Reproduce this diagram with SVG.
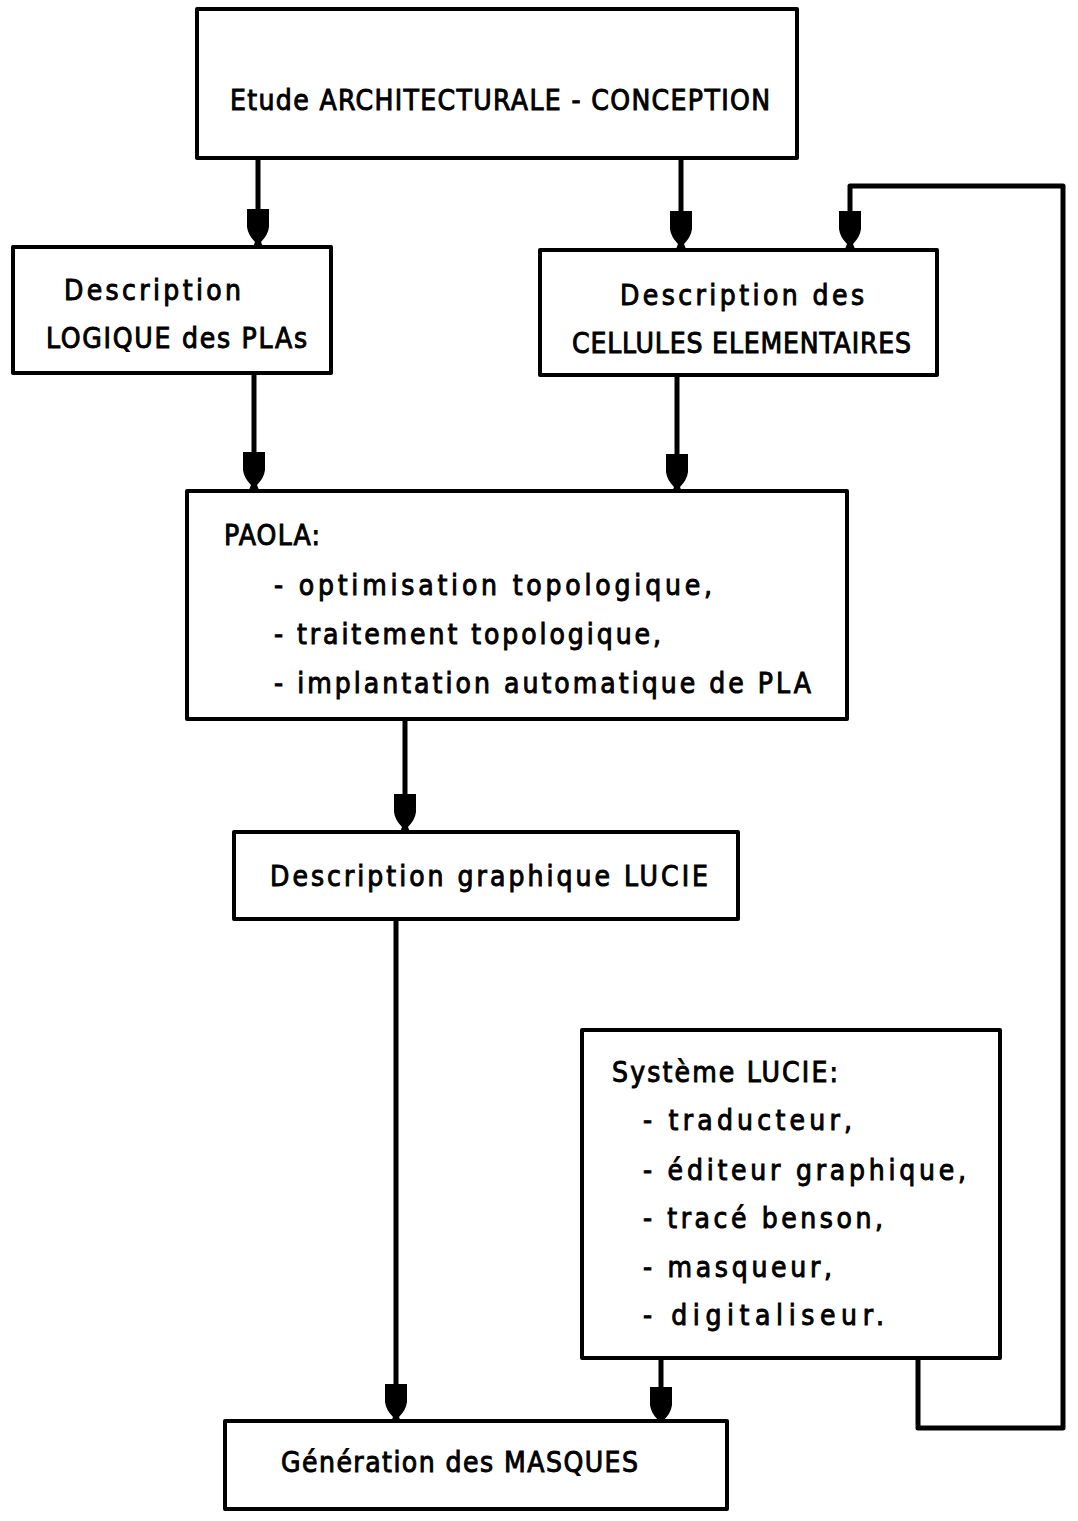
<svg xmlns="http://www.w3.org/2000/svg" xmlns:xlink="http://www.w3.org/1999/xlink" width="1078" height="1521" viewBox="0 0 1078 1521">
<style>
.box{fill:#fff;stroke:#000;stroke-width:4;stroke-linejoin:round}
.t{font-family:"DejaVu Sans Condensed","DejaVu Sans",sans-serif;font-weight:normal;font-size:28px;fill:#000;stroke:#000;stroke-width:0.9}
.ln{fill:none;stroke:#000;stroke-width:5;stroke-linejoin:round}
</style>
<defs>
<path id="nib" d="M-11,-38 H11 L11,-20 Q10,-12 3,-5 L5,0 H-5 L-3,-5 Q-10,-12 -11,-20 Z" fill="#000"/>
</defs>
<rect width="1078" height="1521" fill="#fff"/>
<g id="connectors">
<path class="ln" d="M258,158 V215"/>
<use xlink:href="#nib" href="#nib" x="258" y="247"/>
<path class="ln" d="M681,158 V215"/>
<use xlink:href="#nib" href="#nib" x="681" y="249"/>
<path class="ln" d="M918,1357 V1428 H1063 V186 H850 V215"/>
<use xlink:href="#nib" href="#nib" x="850" y="249"/>
<path class="ln" d="M254,372 V460"/>
<use xlink:href="#nib" href="#nib" x="254" y="490"/>
<path class="ln" d="M677,373 V460"/>
<use xlink:href="#nib" href="#nib" x="677" y="492"/>
<path class="ln" d="M405,718 V800"/>
<use xlink:href="#nib" href="#nib" x="405" y="832"/>
<path class="ln" d="M396,920 V1390"/>
<use xlink:href="#nib" href="#nib" x="396" y="1422"/>
<path class="ln" d="M661,1357 V1392"/>
<use xlink:href="#nib" href="#nib" x="661" y="1425"/>
</g>
<g id="etude">
<rect class="box" x="197" y="9" width="600" height="149"/>
<text class="t" x="230" y="110" textLength="540" lengthAdjust="spacing">Etude ARCHITECTURALE - CONCEPTION</text>
</g>
<g id="logique">
<rect class="box" x="13" y="247" width="318" height="126"/>
<text class="t" x="64" y="300" textLength="177" lengthAdjust="spacing">Description</text>
<text class="t" x="46" y="348" textLength="261" lengthAdjust="spacing">LOGIQUE des PLAs</text>
</g>
<g id="cellules">
<rect class="box" x="540" y="250" width="397" height="125"/>
<text class="t" x="620" y="305" textLength="244" lengthAdjust="spacing">Description des</text>
<text class="t" x="572" y="353" textLength="339" lengthAdjust="spacing">CELLULES ELEMENTAIRES</text>
</g>
<g id="paola">
<rect class="box" x="187" y="491" width="660" height="228"/>
<text class="t" x="224" y="545" textLength="96" lengthAdjust="spacing">PAOLA:</text>
<text class="t" x="274" y="595" textLength="438" lengthAdjust="spacing">- optimisation topologique,</text>
<text class="t" x="274" y="644" textLength="387" lengthAdjust="spacing">- traitement topologique,</text>
<text class="t" x="274" y="693" textLength="537" lengthAdjust="spacing">- implantation automatique de PLA</text>
</g>
<g id="lucie-desc">
<rect class="box" x="234" y="832" width="504" height="87"/>
<text class="t" x="270" y="886" textLength="438" lengthAdjust="spacing">Description graphique LUCIE</text>
</g>
<g id="systeme">
<rect class="box" x="582" y="1030" width="418" height="328"/>
<text class="t" x="612" y="1082" textLength="226" lengthAdjust="spacing">Système LUCIE:</text>
<text class="t" x="643" y="1130" textLength="209" lengthAdjust="spacing">- traducteur,</text>
<text class="t" x="643" y="1180" textLength="323" lengthAdjust="spacing">- éditeur graphique,</text>
<text class="t" x="643" y="1228" textLength="240" lengthAdjust="spacing">- tracé benson,</text>
<text class="t" x="643" y="1277" textLength="189" lengthAdjust="spacing">- masqueur,</text>
<text class="t" x="643" y="1325" textLength="241" lengthAdjust="spacing">- digitaliseur.</text>
</g>
<g id="masques">
<rect class="box" x="225" y="1421" width="502" height="88"/>
<text class="t" x="281" y="1472" textLength="357" lengthAdjust="spacing">Génération des MASQUES</text>
</g>
</svg>
